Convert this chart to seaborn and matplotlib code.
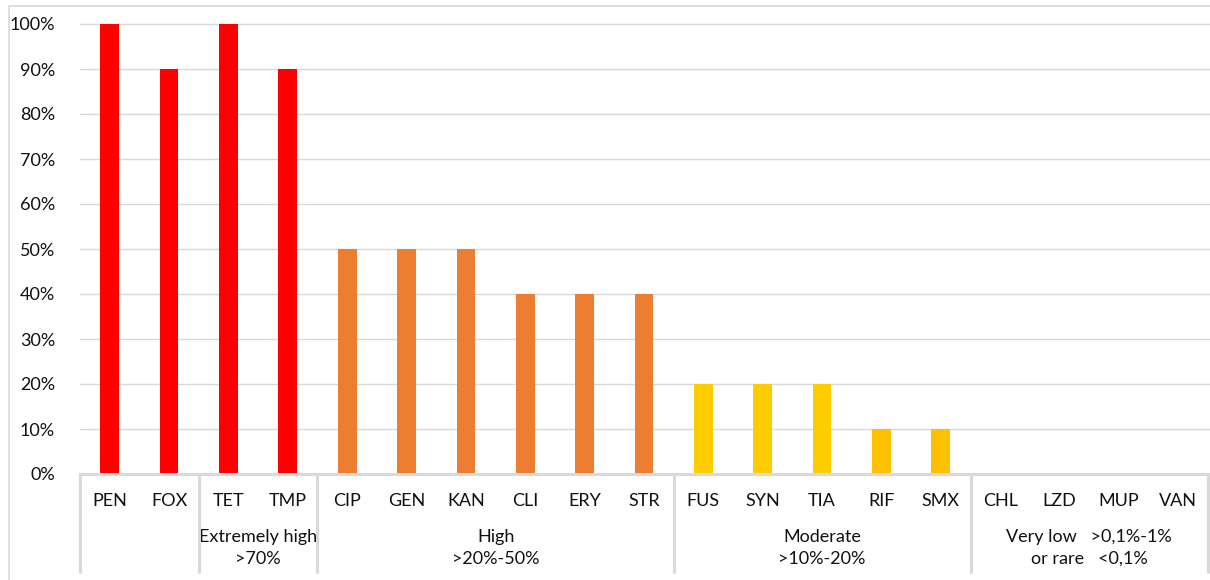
import matplotlib
matplotlib.use("Agg")
import matplotlib.pyplot as plt
from matplotlib.lines import Line2D
import seaborn as sns
import pandas as pd

# Antimicrobial agents and share of resistant isolates
agents = ["PEN", "FOX", "TET", "TMP", "CIP", "GEN", "KAN", "CLI", "ERY", "STR",
          "FUS", "SYN", "TIA", "RIF", "SMX", "CHL", "LZD", "MUP", "VAN"]
resistance = [1.0, 0.9, 1.0, 0.9, 0.5, 0.5, 0.5, 0.4, 0.4, 0.4,
              0.2, 0.2, 0.2, 0.1, 0.1, 0.0, 0.0, 0.0, 0.0]
bar_colors = ["#FF0000", "#FF0000", "#FF0000", "#FF0000",
              "#ED7D31", "#ED7D31", "#ED7D31", "#ED7D31", "#ED7D31", "#ED7D31",
              "#FFCC00", "#FFCC00", "#FFCC00", "#FFC000", "#FFC000",
              "#A5A5A5", "#A5A5A5", "#A5A5A5", "#A5A5A5"]

# Resistance level groups: (first index, last index, label)
groups = [(0, 1, ""),
          (2, 3, "Extremely high\n>70%"),
          (4, 9, "High\n>20%-50%"),
          (10, 14, "Moderate\n>10%-20%"),
          (15, 18, "Very low   >0,1%-1%\nor rare   <0,1%")]

y_ticks = [0.0, 0.1, 0.2, 0.3, 0.4, 0.5, 0.6, 0.7, 0.8, 0.9, 1.0]

sns.set_theme(style="white")
plt.rcParams["font.family"] = ["Lato", "DejaVu Sans"]

W, H = 1210, 580
fs = 13
txt_c = "#111111"
fig = plt.figure(figsize=(W / 100, H / 100), dpi=100)
ax = fig.add_axes([80 / W, 1 - 474 / H, (1208 - 80) / W, (474 - 24) / H])

df = pd.DataFrame({"agent": agents, "resistance": resistance})
sns.barplot(data=df, x="agent", y="resistance", hue="agent",
            palette=dict(zip(agents, bar_colors)), width=0.315,
            saturation=1, legend=False, ax=ax, linewidth=0, zorder=3)

grid_c = "#D9D9D9"
ax.set_xlim(-0.5, len(agents) - 0.5)
ax.set_ylim(0, 1)
ax.set_yticks(y_ticks)
ax.set_yticklabels([f"{int(round(t * 100))}%" for t in y_ticks])
for t in y_ticks[1:]:
    ax.axhline(t, color=grid_c, lw=1.0, zorder=1, clip_on=False, xmax=1.01)

for s in ["left", "right", "top"]:
    ax.spines[s].set_visible(False)
ax.spines["bottom"].set_color(grid_c)
ax.spines["bottom"].set_linewidth(2.2)
ax.spines["bottom"].set_zorder(4)

ax.set_xlabel("")
ax.set_ylabel("")
ax.tick_params(axis="x", length=0, pad=14, labelsize=fs, labelcolor=txt_c)
ax.tick_params(axis="y", length=0, pad=18, labelsize=fs, labelcolor=txt_c)

# Group separators and labels below the category axis
trans = ax.get_xaxis_transform()
bottom_y = -(572 - 474) / (474 - 24)
edges = sorted({g[0] - 0.5 for g in groups} | {groups[-1][1] + 0.5})
for e in edges:
    ax.add_line(Line2D([e, e], [0, bottom_y], transform=trans, color=grid_c,
                       lw=2.2, clip_on=False, zorder=4))
for first, last, label in groups:
    if label:
        ax.text((first + last) / 2, -(548 - 474) / (474 - 24), label,
                transform=trans, ha="center", va="center",
                multialignment="center", fontsize=fs, color=txt_c,
                linespacing=1.45)

# Light frame around the chart area
fig.add_artist(Line2D([8.5 / W, 8.5 / W], [0, 1 - 5.5 / H], color=grid_c, lw=1.2))
fig.add_artist(Line2D([8.5 / W, 1], [1 - 5.5 / H, 1 - 5.5 / H], color=grid_c, lw=1.2))

fig.savefig("out.png", dpi=100)
